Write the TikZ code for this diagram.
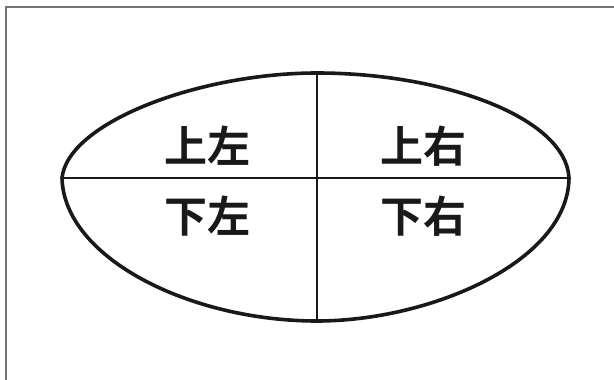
\documentclass[tikz,border=0pt]{standalone}
\usepackage{fontspec}
\newfontfamily\cjk{Noto Sans CJK SC Bold}
\begin{document}
\begin{tikzpicture}[x=1pt,y=-1pt,
  frameline/.style={draw=black!55,line width=1.5pt},
  outline/.style={draw=black!90,line width=3.6pt},
  hdiv/.style={draw=black!90,line width=2.6pt},
  vdiv/.style={draw=black!90,line width=1.8pt},
  lbl/.style={font=\cjk\fontsize{43}{43}\selectfont,text=black!90,inner sep=0pt}]
\useasboundingbox (0,0) rectangle (614,380);
\fill[white] (0,0) rectangle (614,380);
% frame (top and left edges only)
\coordinate (fTL) at (6,7);
\coordinate (fTR) at (614,7);
\coordinate (fBL) at (6,380);
\draw[frameline] (fTR) -- (fTL) -- (fBL);
% egg outline
\coordinate (L) at (62,178);
\coordinate (T) at (317,73);
\coordinate (R) at (569,178);
\coordinate (B) at (317,321);
\draw[outline] (L) .. controls (68,122) and (200,73) .. (T)
  .. controls (445,73) and (566,118) .. (R)
  .. controls (568,262) and (430,321) .. (B)
  .. controls (190,321) and (64,258) .. (L) -- cycle;
\draw[hdiv] (L) -- (R);
\draw[vdiv] (T) -- (B);
% labels
\node[lbl] (ul) at (207,146) {上左};
\node[lbl] (ur) at (423,146) {上右};
\node[lbl] (dl) at (207,216) {下左};
\node[lbl] (dr) at (423,216) {下右};
\end{tikzpicture}
\end{document}
